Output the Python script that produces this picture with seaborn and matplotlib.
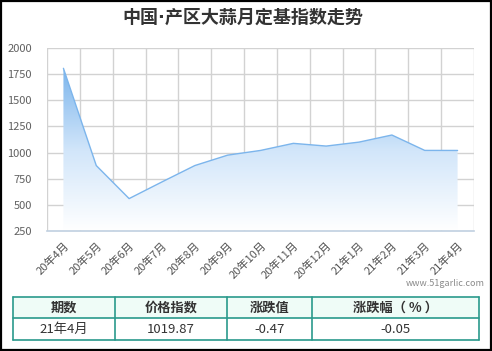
import numpy as np
import pandas as pd
import matplotlib
matplotlib.use("Agg")
import matplotlib.pyplot as plt
from matplotlib.patches import Rectangle, Polygon
from matplotlib.colors import LinearSegmentedColormap
import seaborn as sns

months = ["20年4月", "20年5月", "20年6月", "20年7月", "20年8月", "20年9月", "20年10月",
          "20年11月", "20年12月", "21年1月", "21年2月", "21年3月", "21年4月"]
index_values = [1808, 875, 558, 718, 875, 975, 1020, 1088, 1062, 1100, 1168, 1020.34, 1019.87]
y_ticks = [250, 500, 750, 1000, 1250, 1500, 1750, 2000]

title = "中国·产区大蒜月定基指数走势"
table_header = ["期数", "价格指数", "涨跌值", "涨跌幅（ % ）"]
table_row = ["21年4月", "1019.87", "-0.47", "-0.05"]
watermark = "www.51garlic.com"

sns.set_theme(style="white")
plt.rcParams['font.family'] = ['Noto Sans CJK SC', 'DejaVu Sans']

W, H = 492, 351
fig = plt.figure(figsize=(W / 100, H / 100), dpi=100)
fig.patch.set_facecolor("white")

# main axes in pixel coordinates
left, right, top, bottom = 47, 474, 48.3, 230.7
ax = fig.add_axes([left / W, 1 - bottom / H, (right - left) / W, (bottom - top) / H])

df = pd.DataFrame({"month": months, "value": index_values})
df["pos"] = np.arange(len(months))

line_color = "#7cb5ec"
sns.lineplot(data=df, x="pos", y="value", ax=ax, color=line_color, lw=1.0, zorder=4)

ymin, ymax = 250, 2000
ax.set_ylim(ymin, ymax)
ax.set_xlim(-0.5, len(months) - 0.5)

# gradient area fill
x = df["pos"].values
y = df["value"].values
verts = [(x[0], ymin)] + list(zip(x, y)) + [(x[-1], ymin)]
poly = Polygon(verts, closed=True, facecolor="none", edgecolor="none")
ax.add_patch(poly)
cmap = LinearSegmentedColormap.from_list("g", [(1, 1, 1, 1.0), (0.82, 0.90, 0.98, 1.0), (124/255, 181/255, 236/255, 1.0)])
grad = np.linspace(0, 1, 256).reshape(-1, 1)
img = ax.imshow(grad, aspect="auto", cmap=cmap, origin="lower",
                extent=[x[0], x[-1], ymin, max(y)], zorder=2, interpolation="bilinear")
img.set_clip_path(poly)

# grid
ax.set_yticks(y_ticks)
ax.set_xticks(np.arange(len(months)))
ax.set_xticks(np.arange(-0.5, len(months) + 0.5, 1), minor=True)
ax.grid(False)
for yt in y_ticks[1:]:
    ax.axhline(yt, color="#d2d2d2", lw=1, zorder=1)
for xb in np.arange(-0.5, len(months) + 0.5, 1):
    ax.axvline(xb, color="#d2d2d2", lw=1, zorder=1)

for s in ["top", "right", "left"]:
    ax.spines[s].set_visible(False)
ax.spines["bottom"].set_color("#c0d0e0")
ax.spines["bottom"].set_linewidth(1.2)
ax.spines["bottom"].set_zorder(5)

ax.tick_params(axis="y", length=0, pad=11, labelsize=8, labelcolor="#606060")
ax.tick_params(axis="x", which="major", length=0, pad=7, labelsize=8, labelcolor="#555555")
ax.tick_params(axis="x", which="minor", length=5, width=1.2, color="#c0d0e0")
ax.set_xticklabels(months, rotation=45, ha="right", va="top", rotation_mode="anchor")
ax.set_yticklabels([str(v) for v in y_ticks])
ax.set_xlabel("")
ax.set_ylabel("")

# overlay axes for title, table and frame
ov = fig.add_axes([0, 0, 1, 1], zorder=10)
ov.set_xlim(0, W)
ov.set_ylim(H, 0)
ov.axis("off")
ov.patch.set_alpha(0)

ov.text(243, 18, title, ha="center", va="center", fontsize=13, fontweight="bold",
        color="#333333", family=['DejaVu Sans', 'Noto Sans CJK SC'])
ov.text(485, 284, watermark, ha="right", va="center", fontsize=6.5, color="#8a8a8a")

# table
cols = [13, 115, 227, 312, 479]
rows = [296.5, 318.3, 340]
teal = "#2a9a8c"
ov.add_patch(Rectangle((cols[0], rows[0]), cols[-1] - cols[0], rows[1] - rows[0],
                       facecolor="#effcf7", edgecolor="none"))
for i in range(4):
    cx = (cols[i] + cols[i + 1]) / 2
    ov.text(cx, (rows[0] + rows[1]) / 2 + 0.5, table_header[i], ha="center", va="center",
            fontsize=9.5, fontweight="bold", color="#333333")
    ov.text(cx, (rows[1] + rows[2]) / 2 + 0.5, table_row[i], ha="center", va="center",
            fontsize=9.5, color="#333333")
for r in rows:
    ov.plot([cols[0], cols[-1]], [r, r], color=teal, lw=1.2)
for c in cols:
    ov.plot([c, c], [rows[0], rows[-1]], color=teal, lw=1.2)

# outer frame
ov.add_patch(Rectangle((0.6, 0.6), W - 1.6, H - 2.0, facecolor="none", edgecolor="black", lw=1.6))

fig.savefig("out.png", dpi=100)
